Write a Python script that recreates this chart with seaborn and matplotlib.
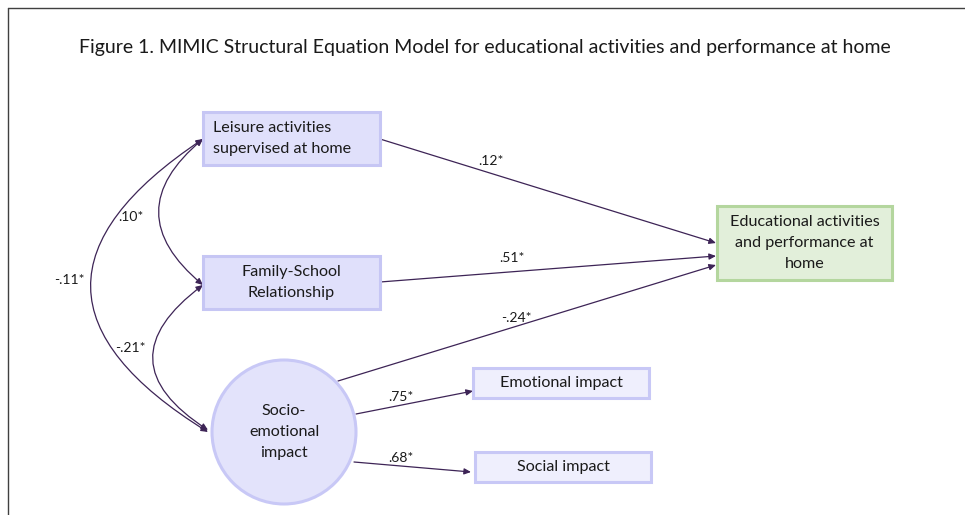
import matplotlib
matplotlib.use('Agg')
import matplotlib.pyplot as plt
import seaborn as sns
from matplotlib.patches import FancyArrowPatch, Rectangle, Circle

sns.set_theme(style='white')
plt.rcParams['font.family'] = ['Lato', 'DejaVu Sans']

# 图标题与节点文字
title = 'Figure 1. MIMIC Structural Equation Model for educational activities and performance at home'
node_labels = {
    'leisure': 'Leisure activities\nsupervised at home',
    'family': 'Family-School\nRelationship',
    'edu': 'Educational activities\nand performance at\nhome',
    'socio': 'Socio-\nemotional\nimpact',
    'emot': 'Emotional impact',
    'social': 'Social impact',
}

# 路径系数（单向）
paths = ['leisure->edu', 'family->edu', 'socio->edu', 'socio->emot', 'socio->social']
path_coefs = ['.12*', '.51*', '-.24*', '.75*', '.68*']

# 协方差（双向）
covs = ['leisure<->family', 'leisure<->socio', 'family<->socio']
cov_coefs = ['.10*', '-.11*', '-.21*']

# 布局（像素坐标）
boxes = {
    'leisure': (203, 112, 177, 53),
    'family': (203, 256, 177, 53),
    'edu': (717, 206, 175, 74),
    'emot': (473, 368, 176, 30),
    'social': (475, 452, 176, 30),
}
circle_c, circle_r = (284, 432), 72

path_pts = {
    'leisure->edu': ((380, 139), (716, 243)),
    'family->edu': ((380, 282), (716, 256)),
    'socio->edu': ((338, 381), (716, 265)),
    'socio->emot': ((356, 414), (473, 391)),
    'socio->social': ((354, 462), (471, 472)),
}
path_lab_pos = [(491, 161), (512, 258), (516, 318), (401, 397), (401, 458)]

cov_pts = {
    'leisure<->family': ((203, 139), (203, 285), 0.60),
    'leisure<->socio': ((203, 139), (208, 432), 0.78),
    'family<->socio': ((203, 285), (208, 430), 0.72),
}
cov_lab_pos = [(131, 217), (69, 280), (130, 348)]

LINE = '#3d2456'
TXT = '#1a1a1a'
NODE_FS = 11.6
LSP = 1.6

fig = plt.figure(figsize=(9.65, 5.15), dpi=100)
ax = fig.add_axes([0, 0, 1, 1])
ax.set_xlim(0, 965)
ax.set_ylim(515, 0)
ax.axis('off')

# 外框（上、左）
ax.plot([8, 965], [8, 8], color='#404040', lw=1)
ax.plot([8, 8], [8, 515], color='#404040', lw=1)

ax.text(485, 48, title, ha='center', va='center', fontsize=14, color=TXT)

# 方框节点
for key, (x, y, w, h) in boxes.items():
    if key == 'edu':
        fc, ec = '#e2efda', '#b4d69e'
    elif key in ('emot', 'social'):
        fc, ec = '#efeffd', '#c8c8f6'
    else:
        fc, ec = '#e0e0fb', '#c6c6f4'
    ax.add_patch(Rectangle((x, y), w, h, facecolor=fc, edgecolor=ec, lw=2.2, zorder=2))
    if key == 'leisure':
        ax.text(x + 10, y + h / 2, node_labels[key], ha='left', va='center',
                fontsize=NODE_FS, color=TXT, linespacing=LSP, zorder=3)
    else:
        ax.text(x + w / 2, y + h / 2, node_labels[key], ha='center', va='center',
                fontsize=NODE_FS, color=TXT, linespacing=LSP, zorder=3)

# 潜变量圆
ax.add_patch(Circle(circle_c, circle_r, facecolor='#e3e3fb', edgecolor='#c8c8f6', lw=2.2, zorder=2))
ax.text(circle_c[0], circle_c[1], node_labels['socio'], ha='center', va='center',
        fontsize=NODE_FS, color=TXT, linespacing=LSP, zorder=3)

# 单向路径
for name, coef, lp in zip(paths, path_coefs, path_lab_pos):
    a, b = path_pts[name]
    ax.add_patch(FancyArrowPatch(a, b, arrowstyle='-|>,head_length=4,head_width=1.8',
                                 color=LINE, lw=0.9, shrinkA=0, shrinkB=0, zorder=1))
    ax.text(lp[0], lp[1], coef, ha='center', va='center', fontsize=10, color=TXT)

# 双向协方差
for name, coef, lp in zip(covs, cov_coefs, cov_lab_pos):
    a, b, rad = cov_pts[name]
    ax.add_patch(FancyArrowPatch(a, b, arrowstyle='<|-|>,head_length=4,head_width=1.8',
                                 connectionstyle=f'arc3,rad={rad}',
                                 color=LINE, lw=0.9, shrinkA=0, shrinkB=0, zorder=1))
    ax.text(lp[0], lp[1], coef, ha='center', va='center', fontsize=10, color=TXT)

fig.savefig('out.png', dpi=100, facecolor='white')
